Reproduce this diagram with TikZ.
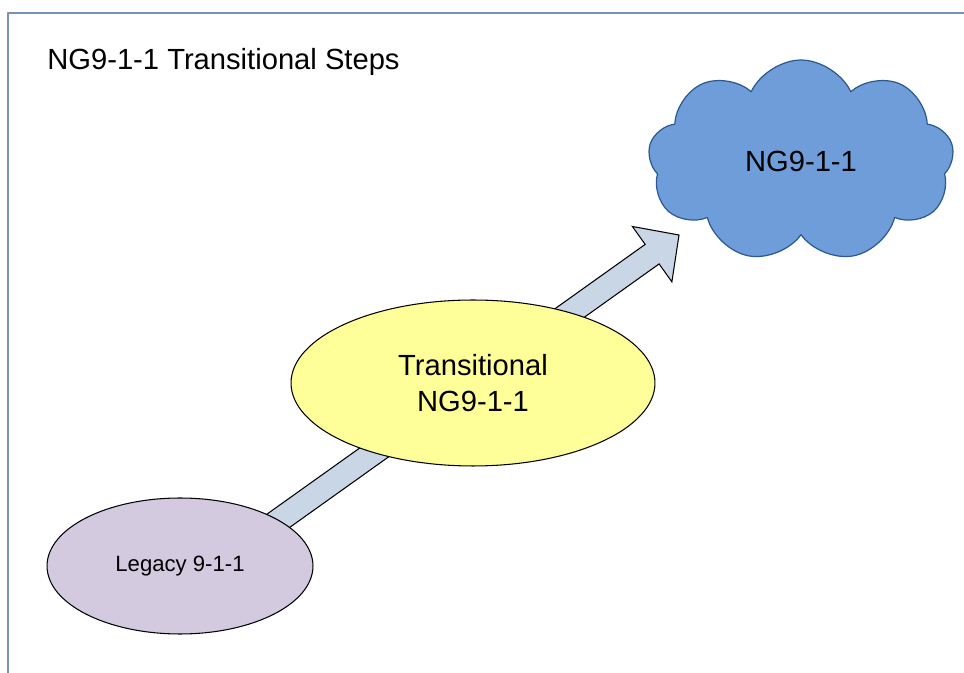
\documentclass[tikz,border=0pt]{standalone}
\usepackage{fontspec}
\setmainfont{Liberation Sans}
\usepackage{xcolor}
\usepackage{tikz}
\usetikzlibrary{shapes.geometric, shapes.symbols, calc}
\definecolor{framecol}{HTML}{7891B5}
\definecolor{legacyfill}{HTML}{D3CADF}
\definecolor{transfill}{HTML}{FFFF99}
\definecolor{arrowfill}{HTML}{C9D6E6}
\definecolor{cloudfill}{HTML}{6F9DDA}
\definecolor{cloudline}{HTML}{2C5A90}
\tikzstyle{frame} = [line width=1.2pt,color=framecol]
\tikzstyle{legacy} = [ellipse,draw=black,line width=0.6pt,fill=legacyfill,minimum width=5.32cm,minimum height=2.72cm,font=\fontsize{12.6}{15}\selectfont]
\tikzstyle{transbox} = [ellipse,draw=black,line width=0.6pt,fill=transfill,minimum width=7.28cm,minimum height=3.32cm,align=center,font=\fontsize{16.6}{20.4}\selectfont]
\tikzstyle{ngcloud} = [cloud,cloud puffs=9,cloud puff arc=130,aspect=1.5,draw=cloudline,line width=0.7pt,fill=cloudfill,minimum width=6.12cm,minimum height=4.04cm,font=\fontsize{16.6}{20}\selectfont]
\tikzstyle{blockarrow} = [draw=black,line width=0.6pt,fill=arrowfill,line join=miter]

\begin{document}
\begin{tikzpicture}[line cap=round,line join=round,x=0.02cm,y=0.02cm]
                \useasboundingbox (0,0) rectangle (964,673);
                % frame
                \draw [frame] (8,0)-- (8,660)-- (964,660);
                \node[anchor=base west,inner sep=0pt,font=\fontsize{16.6}{20}\selectfont] (title) at (47,603) {NG9-1-1 Transitional Steps};
                % block arrow, drawn first so the ellipses sit on top
                \coordinate (tail) at (264,142);
                \coordinate (tip) at (679,438);
                \coordinate (hb) at ($(tip)!0.66cm!(tail)$);
                \draw [blockarrow] ($(tail)!0.24cm!90:(tip)$)-- ($(hb)!0.24cm!90:(tip)$)-- ($(hb)!0.68cm!90:(tip)$)-- (tip)
                    -- ($(hb)!0.68cm!-90:(tip)$)-- ($(hb)!0.24cm!-90:(tip)$)-- ($(tail)!0.24cm!-90:(tip)$)-- cycle;
                % the three stages
                \node[legacy] (legacy) at (180,107) {Legacy 9-1-1};
                \node[transbox] (trans) at (473,290) {Transitional\\NG9-1-1};
                \node[ngcloud] (ng) at (801,512) {NG9-1-1};
            \end{tikzpicture}
\end{document}
